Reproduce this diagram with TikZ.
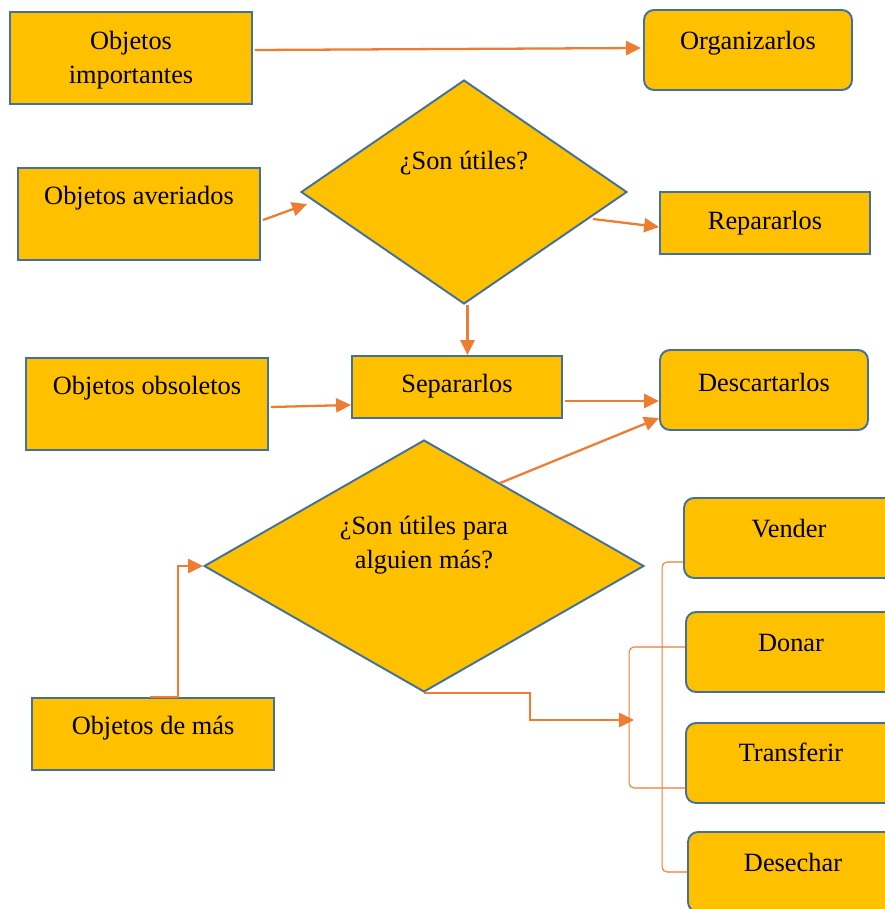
\documentclass[tikz,border=0pt]{standalone}
\usepackage{fontspec}
\setmainfont{Liberation Serif}
\usetikzlibrary{arrows.meta,shapes.geometric}
\definecolor{boxfill}{HTML}{FFC000}
\definecolor{boxline}{HTML}{41719C}
\definecolor{flowline}{HTML}{ED7D31}
\tikzset{txt/.style 2 args={label={[shift={(0,#1)}]center:#2}}}

\begin{document}
\begin{tikzpicture}[x=0.02cm,y=-0.02cm,
font=\fontsize{15}{19.5}\selectfont,
box/.style={draw=boxline,fill=boxfill,line width=1.1pt,inner sep=0pt},
roundbox/.style={box,rounded corners=2mm},
choice/.style={box,diamond},
every label/.style={align=center,inner sep=0pt},
flow/.style={-{Triangle[length=8.5pt,width=8pt]},line width=1.3pt,draw=flowline},
brace/.style={line width=0.6pt,draw=flowline,rounded corners=1mm}]
\useasboundingbox (0,0) rectangle (885,909);
\clip (0,0) rectangle (885,909);
\node[box,minimum width=4.84cm,minimum height=1.84cm,txt={2}{Objetos\\importantes}] (imp) at (131,58) {};
\node[roundbox,minimum width=4.16cm,minimum height=1.6cm,txt={-7}{Organizarlos}] (org) at (748,50) {};
\node[choice,minimum width=6.52cm,minimum height=4.48cm,txt={-29}{¿Son útiles?}] (dia1) at (464,192) {};
\node[box,minimum width=4.84cm,minimum height=1.84cm,txt={-16}{Objetos averiados}] (ave) at (139,214) {};
\node[box,minimum width=4.2cm,minimum height=1.24cm,txt={0}{Repararlos}] (rep) at (765,223) {};
\node[box,minimum width=4.84cm,minimum height=1.84cm,txt={-16}{Objetos obsoletos}] (obs) at (147,404) {};
\node[box,minimum width=4.2cm,minimum height=1.24cm,txt={-1}{Separarlos}] (sep) at (457,387) {};
\node[roundbox,minimum width=4.16cm,minimum height=1.6cm,txt={-8}{Descartarlos}] (desc) at (764,390) {};
\node[choice,minimum width=8.8cm,minimum height=5.04cm,txt={-21}{¿Son útiles para\\alguien más?}] (dia2) at (424,566) {};
\node[box,minimum width=4.84cm,minimum height=1.44cm,txt={-6}{Objetos de más}] (mas) at (153,734) {};
\node[roundbox,minimum width=4.2cm,minimum height=1.6cm,txt={-9}{Vender}] (ven) at (789,538) {};
\node[roundbox,minimum width=4.2cm,minimum height=1.6cm,txt={-9}{Donar}] (don) at (791,652) {};
\node[roundbox,minimum width=4.2cm,minimum height=1.6cm,txt={-11}{Transferir}] (tra) at (791,763) {};
\node[roundbox,minimum width=4.2cm,minimum height=1.6cm,txt={-10}{Desechar}] (des) at (793,872) {};
\coordinate (join) at (634,720);
\draw[flow] ([shift={(2,-8)}]imp.east) -- ([shift={(-2,-2)}]org.west);
\draw[flow] ([shift={(2,6)}]ave.east) -- ([shift={(7,12)}]dia1.west);
\draw[flow] ([shift={(-35,27)}]dia1.east) -- ([shift={(0,4)}]rep.west);
\draw[flow] ([xshift=2]dia1.south) -- ([xshift=2]dia1.south |- sep.north);
\draw[flow] ([shift={(2,3)}]obs.east) -- ([shift={(0,18)}]sep.west);
\draw[flow] ([shift={(2,14)}]sep.east) -- ([shift={(0,11)}]desc.west);
\draw[flow] ([shift={(76,44)}]dia2.north) -- ([shift={(0,28)}]desc.west);
\draw[flow] ([shift={(-3,0)}]mas.north) -- ++(28,0) |- (dia2.west);
\draw[flow] (dia2.south) -- ++(106,0) |- (join);
\draw[brace] ([shift={(0,24)}]ven.west) -| ([shift={(-25,0)}]des.west) -- (des.west);
\draw[brace] ([shift={(0,-5)}]don.west) -| ([shift={(-56,25)}]tra.west) -- ([shift={(0,25)}]tra.west);
\end{tikzpicture}
\end{document}
